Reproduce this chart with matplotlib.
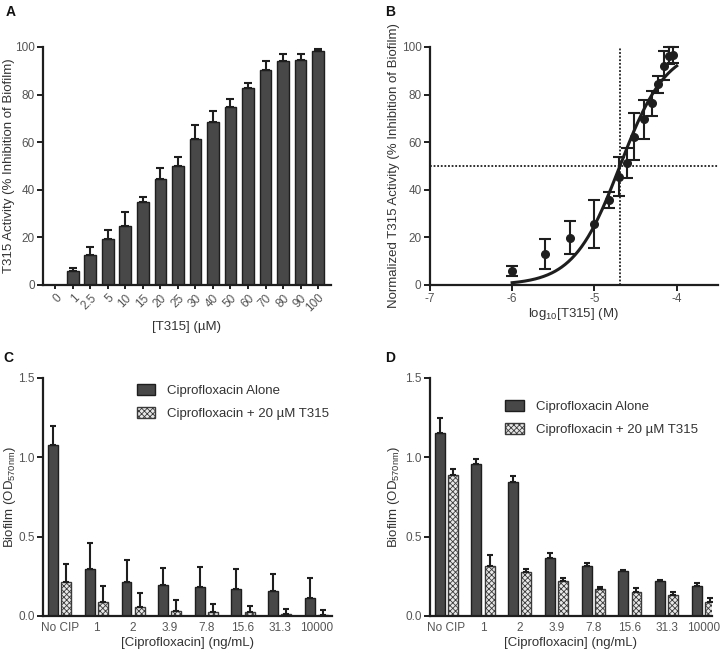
import numpy as np
import matplotlib
matplotlib.use('Agg')
from matplotlib import pyplot as plt

plt.rcParams['font.family'] = ['Liberation Sans', 'DejaVu Sans']
plt.rcParams['hatch.linewidth'] = 0.6
plt.rcParams['axes.unicode_minus'] = False

# panel A data
a_labels = ['0', '1', '2.5', '5', '10', '15', '20', '25', '30', '40', '50', '60', '70', '80', '90', '100']
a_mean = [0, 5.7, 12.4, 19.3, 24.9, 35.0, 44.4, 50.1, 61.3, 68.3, 74.9, 82.6, 90.4, 94.3, 94.7, 98.2]
a_err = [0, 1.6, 3.7, 3.9, 5.9, 2.0, 4.9, 3.5, 5.8, 4.7, 3.1, 2.4, 3.6, 2.9, 2.2, 1.1]

# panel B data (conc in uM)
b_conc = [1, 2.5, 5, 10, 15, 20, 25, 30, 40, 50, 60, 70, 80, 90]
b_mean = [6.0, 12.9, 19.9, 25.5, 35.7, 45.5, 51.3, 62.3, 69.6, 76.3, 84.3, 92.2, 96.4, 96.6]
b_err = [2.1, 6.3, 6.9, 10.0, 3.5, 8.3, 6.2, 9.8, 8.2, 5.3, 3.6, 6.2, 3.4, 3.4]
log_ic50 = -4.69
hill = 1.54

# panels C and D data
groups = ['No CIP', '1', '2', '3.9', '7.8', '15.6', '31.3', '10000']
c_alone = [1.08, 0.295, 0.213, 0.194, 0.183, 0.168, 0.156, 0.114]
c_alone_err = [0.115, 0.166, 0.14, 0.107, 0.126, 0.126, 0.11, 0.128]
c_t315 = [0.213, 0.09, 0.057, 0.034, 0.023, 0.023, 0.013, 0.004]
c_t315_err = [0.113, 0.1, 0.09, 0.067, 0.05, 0.038, 0.034, 0.034]
d_alone = [1.153, 0.959, 0.842, 0.368, 0.316, 0.284, 0.221, 0.191]
d_alone_err = [0.095, 0.032, 0.038, 0.032, 0.019, 0.006, 0.006, 0.019]
d_t315 = [0.888, 0.318, 0.28, 0.223, 0.168, 0.151, 0.13, 0.09]
d_t315_err = [0.038, 0.067, 0.019, 0.015, 0.015, 0.025, 0.021, 0.026]

dark = '#484848'
edge = '#1e1e1e'
tickc = '#555555'
labc = '#333333'

fig = plt.figure(figsize=(7.2, 6.53), dpi=100)

def style(ax):
    for s in ['top', 'right']:
        ax.spines[s].set_visible(False)
    for s in ['left', 'bottom']:
        ax.spines[s].set_linewidth(1.6)
        ax.spines[s].set_color(edge)
    ax.tick_params(direction='out', length=4, width=1.4, color=edge,
                   labelsize=8.5, labelcolor=tickc, pad=2)

# ---- A ----
axA = fig.add_axes([0.0597, 0.5636, 0.40, 0.3645])
style(axA)
xa = np.arange(len(a_labels))
axA.bar(xa, a_mean, width=0.68, color=dark, edgecolor=edge, linewidth=1.0)
axA.errorbar(xa[1:], a_mean[1:], yerr=[np.zeros(len(xa) - 1), a_err[1:]], fmt='none',
             ecolor=edge, elinewidth=1.5, capsize=3, capthick=1.5, clip_on=False)
axA.set_xlim(-0.71, 15.74)
axA.set_ylim(0, 100)
axA.set_yticks([0, 20, 40, 60, 80, 100])
axA.set_xticks(xa)
axA.set_xticklabels(a_labels, rotation=45, ha='right', rotation_mode='anchor')
axA.tick_params(axis='x', length=3)
axA.set_ylabel('T315 Activity (% Inhibition of Biofilm)', fontsize=9.5, color=labc)
axA.yaxis.set_label_coords(-0.097, 0.5)
axA.set_xlabel('[T315] (\u00b5M)', fontsize=9.5, color=labc)
axA.xaxis.set_label_coords(0.5, -0.151)

# ---- B ----
axB = fig.add_axes([0.597, 0.5636, 0.40, 0.3645])
style(axB)
bx = np.log10(np.array(b_conc) * 1e-6)
xfit = np.linspace(-6, -4, 200)
yfit = 100 / (1 + 10 ** ((log_ic50 - xfit) * hill))
axB.plot(xfit, yfit, color=edge, lw=2.2)
axB.axhline(50, color=edge, lw=1.3, ls=(0, (1, 1)))
axB.plot([log_ic50, log_ic50], [0, 100], color=edge, lw=1.3, ls=(0, (1, 1)))
axB.errorbar(bx, b_mean, yerr=b_err, fmt='o', color=edge, ms=5.5, elinewidth=1.5,
             capsize=4, capthick=1.5, clip_on=False, zorder=3)
axB.set_xlim(-7, -3.5)
axB.set_ylim(0, 100)
axB.set_xticks([-7, -6, -5, -4])
axB.set_yticks([0, 20, 40, 60, 80, 100])
axB.set_ylabel('Normalized T315 Activity (% Inhibition of Biofilm)', fontsize=9.5, color=labc)
axB.yaxis.set_label_coords(-0.104, 0.5)
axB.set_xlabel(r'log$_{\mathregular{10}}$[T315] (M)', fontsize=9.5, color=labc)
axB.xaxis.set_label_coords(0.5, -0.088)

# ---- C and D ----
def grouped(ax, alone, alone_err, t315, t315_err, xlim, leg_anchor):
    style(ax)
    x = np.arange(len(groups))
    w = 0.27
    off = 0.18
    ax.bar(x - off, alone, width=w, color=dark, edgecolor=edge, linewidth=1.0,
           label='Ciprofloxacin Alone')
    ax.bar(x + off, t315, width=w, color='#e8e8e8', edgecolor='#3a3a3a', hatch='xxxxxx',
           linewidth=1.0, label='Ciprofloxacin + 20 \u00b5M T315')
    ax.errorbar(x - off, alone, yerr=[np.zeros(len(x)), alone_err], fmt='none',
                ecolor=edge, elinewidth=1.5, capsize=2.5, capthick=1.5)
    ax.errorbar(x + off, t315, yerr=[np.zeros(len(x)), t315_err], fmt='none',
                ecolor=edge, elinewidth=1.5, capsize=2.5, capthick=1.5)
    ax.set_xlim(*xlim)
    ax.set_ylim(0, 1.5)
    ax.set_yticks([0.0, 0.5, 1.0, 1.5])
    ax.set_yticklabels(['0.0', '0.5', '1.0', '1.5'])
    ax.set_xticks(x)
    ax.set_xticklabels(groups)
    ax.tick_params(axis='x', length=0, pad=4)
    ax.set_ylabel(r'Biofilm (OD$_{\mathregular{570nm}}$)', fontsize=9.5, color=labc)
    ax.set_xlabel('[Ciprofloxacin] (ng/mL)', fontsize=9.5, color=labc)
    ax.xaxis.set_label_coords(0.5, -0.088)
    leg = ax.legend(loc='upper left', bbox_to_anchor=leg_anchor, frameon=False,
                    fontsize=9.5, handlelength=1.4, handleheight=0.9,
                    handletextpad=0.9, labelspacing=0.75)
    for t in leg.get_texts():
        t.set_color(labc)
    return ax

axC = fig.add_axes([0.0597, 0.0567, 0.401, 0.3645])
grouped(axC, c_alone, c_alone_err, c_t315, c_t315_err, (-0.46, 7.42), (0.284, 1.025))
axC.yaxis.set_label_coords(-0.085, 0.5)

axD = fig.add_axes([0.597, 0.0567, 0.392, 0.3645])
grouped(axD, d_alone, d_alone_err, d_t315, d_t315_err, (-0.45, 7.24), (0.225, 0.958))
axD.yaxis.set_label_coords(-0.100, 0.5)

# panel letters
for lbl, x, y in [('A', 0.008, 0.982), ('B', 0.535, 0.982), ('C', 0.004, 0.452), ('D', 0.535, 0.452)]:
    fig.text(x, y, lbl, fontsize=10, fontweight='bold', va='center', ha='left', color='#111111')

fig.savefig('out.png', dpi=100)
